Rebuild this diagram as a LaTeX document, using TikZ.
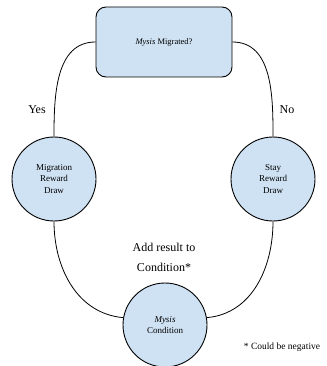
\documentclass[tikz,border=0pt]{standalone}
\usepackage{fontspec}
\setmainfont{Liberation Serif}
\definecolor{nodeblue}{RGB}{207, 226, 243}
\usetikzlibrary{positioning}

\begin{document}
\begin{tikzpicture}[x=1pt, y=-1pt,
    decisionbox/.style={draw, line width=0.9pt, fill=nodeblue, rounded corners=10pt,
      minimum width=136pt, minimum height=70pt, font=\fontsize{8.5}{10}\selectfont},
    rewardnode/.style={draw, line width=0.9pt, fill=nodeblue, circle, minimum size=84pt,
      inner sep=0pt, align=center, font=\fontsize{9}{11.7}\selectfont},
    link/.style={line width=0.8pt},
    lbl/.style={font=\fontsize{12}{20}\selectfont, align=center}]
  \useasboundingbox (0, 0) rectangle (326, 366);

  \node[decisionbox] (migrated) at (164, 42) {\textit{Mysis} Migrated?};
  \node[rewardnode] (migdraw) at (54, 179) {Migration\\Reward\\Draw};
  \node[rewardnode] (staydraw) at (273, 179) {Stay\\Reward\\Draw};
  \node[rewardnode] (condition) at (165, 325) {\textit{Mysis}\\Condition};

  \draw[link] (migrated.west) to[out=180, in=90] (migdraw.north);
  \draw[link] (migrated.east) to[out=0, in=90] (staydraw.north);
  \draw[link] (migdraw.south) to[out=-90, in=175] (condition.170);
  \draw[link] (staydraw.south) to[out=-90, in=5] (condition.10);

  \node[lbl] (yes) at (37, 110) {Yes};
  \node[lbl] (no) at (287, 110) {No};
  \node[lbl] (addres) at (164, 257) {Add result to\\Condition*};
  \node[font=\fontsize{9.5}{11}\selectfont] (note) at (282, 347) {* Could be negative};
\end{tikzpicture}
\end{document}
